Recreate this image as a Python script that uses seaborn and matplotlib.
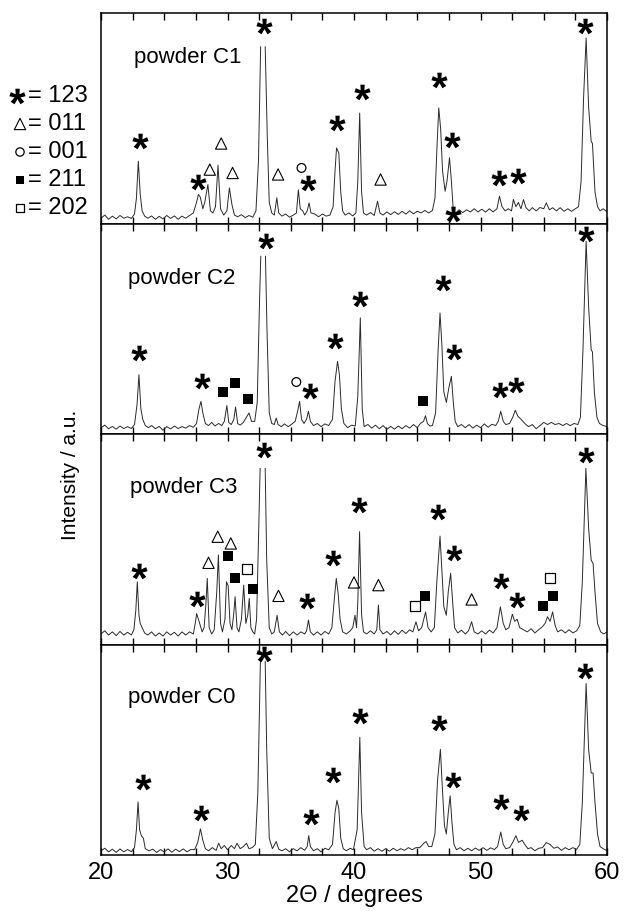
import numpy as np
import pandas as pd
import matplotlib
matplotlib.use("Agg")
import matplotlib.pyplot as plt
import seaborn as sns
from matplotlib.textpath import TextPath
from matplotlib.font_manager import FontProperties
from matplotlib.path import Path

# ---------------- data ----------------
PANEL_LABELS = ["powder C1", "powder C2", "powder C3", "powder C0"]
X_TICKS = [20, 30, 40, 50, 60]
LEGEND_LABELS = ["= 123", "= 011", "= 001", "= 211", "= 202"]

C1_TRACE = [
    (20.0, 2.5), (20.3, 4.0), (20.6, 2.0), (20.9, 3.5), (21.2, 2.2), (21.5, 3.8), (21.8, 2.5), (22.1, 3.2),
    (22.4, 2.4), (22.65, 4.5), (22.8, 12), (22.95, 29.6), (23.1, 14), (23.25, 6), (23.45, 3.5), (23.7, 2.5),
    (24.0, 3.6), (24.3, 2.0), (24.6, 3.4), (24.9, 2.2), (25.2, 3.8), (25.5, 2.4), (25.8, 3.6), (26.1, 2.0),
    (26.4, 3.5), (26.7, 2.5), (27.0, 3.8), (27.3, 5), (27.55, 10), (27.7, 13.8), (27.85, 12.5), (28.05, 7),
    (28.2, 10), (28.45, 18.5), (28.65, 6), (28.85, 5), (29.05, 8), (29.25, 27.7), (29.45, 7), (29.7, 4),
    (29.95, 6), (30.15, 16.9), (30.35, 9), (30.55, 4), (30.8, 3.2), (31.1, 4.2), (31.4, 2.8), (31.7, 3.8),
    (32.0, 3.0), (32.25, 6), (32.45, 30), (32.62, 84), None, (32.98, 84), (33.15, 40), (33.3, 10),
    (33.5, 5), (33.7, 4), (33.9, 12.2), (34.05, 5), (34.3, 3.5), (34.6, 4.5), (34.9, 3), (35.2, 4),
    (35.45, 5), (35.6, 16), (35.75, 7), (35.95, 6), (36.1, 4), (36.3, 6), (36.45, 9.8), (36.6, 5),
    (36.9, 4.5), (37.2, 3.2), (37.5, 4.5), (37.8, 3.5), (38.1, 4), (38.35, 8), (38.5, 25), (38.62, 35.9),
    (38.8, 33.5), (38.95, 15), (39.1, 6), (39.3, 4), (39.6, 5), (39.9, 3.6), (40.15, 5), (40.3, 20),
    (40.45, 52.5), (40.6, 15), (40.75, 5), (41.0, 4), (41.3, 5.2), (41.6, 3.8), (41.86, 10.6), (42.05, 5),
    (42.3, 4), (42.6, 5.5), (42.9, 4.2), (43.2, 5.6), (43.5, 4.3), (43.8, 5.8), (44.1, 4.5), (44.4, 6),
    (44.7, 4.6), (45.0, 5.8), (45.3, 5), (45.6, 6.2), (45.9, 5), (46.2, 6.2), (46.4, 12), (46.55, 35),
    (46.7, 54.9), (46.85, 45), (47.0, 25), (47.2, 15.3), (47.35, 20), (47.55, 31.2), (47.7, 20), (47.85, 6),
    (48.05, 5), (48.3, 6.5), (48.6, 5.2), (48.9, 6.5), (49.2, 5.5), (49.5, 7), (49.8, 5.5), (50.1, 6.8),
    (50.4, 5.4), (50.7, 7), (51.0, 5.5), (51.3, 7), (51.5, 13), (51.7, 8), (51.95, 6), (52.2, 7),
    (52.45, 6), (52.6, 11.4), (52.8, 8), (53.0, 10), (53.2, 7), (53.4, 11.4), (53.6, 7.5), (53.85, 6),
    (54.1, 7.5), (54.4, 6), (54.7, 7.6), (55.0, 7), (55.2, 9.8), (55.45, 6.5), (55.7, 7.5), (56.0, 6),
    (56.3, 7.5), (56.6, 5.8), (56.9, 7), (57.2, 5.8), (57.5, 7), (57.75, 8), (57.95, 20), (58.15, 60),
    (58.35, 88.1), (58.55, 55), (58.75, 39), (58.85, 38), (59.05, 15), (59.25, 8), (59.45, 6), (59.7, 7),
    (60.0, 5.5),
]

C2_TRACE = [
    (20.0, 3), (20.3, 4.2), (20.6, 2.5), (20.9, 3.6), (21.2, 2.3), (21.5, 3.8), (21.8, 2.6), (22.1, 3.5),
    (22.4, 2.6), (22.65, 4.5), (22.85, 14), (23.0, 28.2), (23.15, 12), (23.3, 7), (23.5, 4), (23.75, 3),
    (24.0, 4), (24.3, 2.5), (24.6, 3.6), (24.9, 1.8), (25.2, 3.5), (25.5, 2.4), (25.8, 3.8), (26.1, 2.6),
    (26.4, 3.5), (26.7, 2.8), (27.0, 4), (27.3, 3.2), (27.55, 5), (27.75, 12), (27.9, 15.5), (28.05, 10),
    (28.25, 5), (28.5, 4), (28.75, 5.5), (29.0, 3.8), (29.3, 5), (29.55, 4), (29.75, 6), (29.95, 13.5),
    (30.1, 5.5), (30.3, 4.5), (30.5, 7), (30.64, 12.8), (30.8, 5), (31.0, 4.2), (31.25, 5.5), (31.45, 7.5),
    (31.7, 10), (31.9, 6), (32.15, 6), (32.35, 15), (32.52, 60), (32.63, 84.5), None, (33.0, 84.5),
    (33.12, 50), (33.3, 10), (33.5, 5), (33.7, 4.5), (33.85, 7.6), (34.0, 4.5), (34.25, 3.5), (34.5, 4.8),
    (34.8, 3.5), (35.1, 4.8), (35.35, 6), (35.55, 11), (35.7, 15.5), (35.85, 7), (36.05, 5), (36.25, 7),
    (36.4, 10.8), (36.55, 6), (36.8, 4), (37.1, 5), (37.4, 3.5), (37.7, 4.8), (38.0, 4), (38.3, 7),
    (38.5, 25), (38.7, 34.5), (38.85, 28), (39.0, 12), (39.2, 5), (39.5, 3), (39.8, 4.2), (40.1, 3.8),
    (40.3, 18), (40.5, 55.2), (40.65, 12), (40.8, 3.5), (41.1, 4.5), (41.4, 2.8), (41.7, 4.2), (42.0, 2.5),
    (42.3, 4), (42.6, 2.2), (42.9, 3.6), (43.2, 2.3), (43.5, 3.8), (43.8, 2.5), (44.1, 4), (44.4, 2.8),
    (44.7, 4.5), (45.0, 3), (45.25, 5), (45.5, 6), (45.65, 8.7), (45.8, 5), (46.0, 3.8), (46.2, 4),
    (46.45, 10), (46.65, 40), (46.8, 57.5), (46.95, 42), (47.1, 20), (47.3, 15), (47.5, 22), (47.7, 27.4),
    (47.85, 15), (48.0, 6), (48.2, 3.5), (48.5, 4.5), (48.8, 3), (49.1, 4.5), (49.4, 2.8), (49.7, 4.2),
    (50.0, 3), (50.3, 4.8), (50.6, 3.2), (50.9, 4.6), (51.2, 4), (51.4, 6), (51.6, 10.8), (51.8, 6),
    (52.0, 4.5), (52.3, 5), (52.55, 8), (52.75, 11.3), (52.95, 8.5), (53.2, 7), (53.5, 5), (53.8, 3.5),
    (54.1, 4.5), (54.4, 2.5), (54.7, 4), (55.0, 5.5), (55.3, 4.5), (55.6, 5.5), (55.9, 4.5), (56.2, 5),
    (56.5, 4), (56.8, 5), (57.1, 4), (57.4, 5), (57.7, 4.5), (57.9, 8), (58.1, 40), (58.35, 91.6),
    (58.55, 60), (58.75, 40), (58.85, 39), (59.0, 20), (59.2, 8), (59.4, 5), (59.7, 4), (60.0, 3.5),
]

C3_TRACE = [
    (20.0, 5), (20.3, 6.5), (20.6, 4.5), (20.9, 6), (21.2, 4.2), (21.5, 6.2), (21.8, 4.5), (22.1, 5.8),
    (22.4, 4.5), (22.6, 7), (22.75, 16), (22.87, 29.8), (23.0, 14), (23.1, 10), (23.25, 8), (23.45, 5.5),
    (23.7, 4.5), (24.0, 6), (24.3, 4), (24.6, 5.5), (24.9, 4), (25.2, 6), (25.5, 4.5), (25.8, 5.8),
    (26.1, 4), (26.4, 6), (26.7, 4.5), (27.0, 6), (27.3, 5), (27.45, 10), (27.56, 14.7), (27.7, 12),
    (27.85, 9), (28.0, 6), (28.15, 8), (28.3, 20), (28.4, 31.4), (28.55, 8), (28.75, 5), (28.95, 7),
    (29.15, 25), (29.28, 42.5), (29.45, 10), (29.6, 6), (29.8, 12), (29.92, 29.8), (30.05, 28), (30.2, 10),
    (30.35, 7), (30.5, 15), (30.6, 22.7), (30.75, 8), (30.9, 6), (31.1, 12), (31.28, 28.2), (31.45, 10),
    (31.6, 14), (31.72, 21.9), (31.85, 8), (32.0, 6), (32.15, 5), (32.3, 12), (32.45, 50), (32.58, 83.7),
    None, (32.98, 83.7), (33.1, 40), (33.3, 8), (33.5, 5), (33.7, 6), (33.92, 13.9), (34.1, 6),
    (34.35, 4.5), (34.6, 6.2), (34.9, 4.2), (35.2, 6), (35.5, 4.5), (35.8, 6), (36.1, 5), (36.25, 6.5),
    (36.4, 11.6), (36.55, 6), (36.8, 4.5), (37.1, 6), (37.4, 4.5), (37.7, 6.2), (38.0, 5), (38.25, 8),
    (38.45, 22), (38.6, 31.4), (38.75, 24), (38.9, 12), (39.1, 6), (39.4, 5), (39.7, 6.5), (39.9, 8),
    (40.08, 13.9), (40.2, 8), (40.3, 20), (40.44, 53.6), (40.6, 14), (40.75, 6), (41.0, 5), (41.3, 6.5),
    (41.6, 5), (41.8, 7), (41.93, 18.7), (42.05, 7), (42.3, 5), (42.6, 6.2), (42.9, 4.5), (43.2, 6.5),
    (43.5, 4.8), (43.8, 6.8), (44.1, 5.2), (44.4, 7), (44.65, 6), (44.9, 10.8), (45.1, 6.5), (45.35, 8),
    (45.66, 15.5), (45.85, 8), (46.1, 6), (46.35, 8), (46.55, 30), (46.8, 51.5), (46.95, 35), (47.1, 18),
    (47.3, 13.9), (47.45, 25), (47.64, 33.8), (47.8, 20), (47.95, 8), (48.2, 5.5), (48.5, 6.8), (48.8, 5),
    (49.05, 6.5), (49.3, 10.8), (49.5, 6), (49.8, 5), (50.1, 6.5), (50.4, 5), (50.7, 6.8), (51.0, 5.5),
    (51.3, 8), (51.57, 17.9), (51.8, 10), (52.0, 7), (52.25, 8), (52.52, 14.4), (52.7, 11), (52.9, 12),
    (53.1, 8), (53.4, 7), (53.7, 6), (54.0, 7.5), (54.3, 5.5), (54.6, 7), (54.9, 8.5), (55.1, 10),
    (55.3, 13.2), (55.5, 11), (55.7, 15.5), (55.9, 9), (56.1, 6), (56.4, 7), (56.7, 5.5), (57.0, 7),
    (57.3, 5.5), (57.6, 6.5), (57.85, 9), (58.05, 30), (58.33, 83.7), (58.55, 55), (58.75, 40), (58.9, 38.5),
    (59.05, 25), (59.25, 10), (59.5, 6), (59.75, 5), (60.0, 6),
]

C0_TRACE = [
    (20.0, 2), (20.3, 3.2), (20.6, 1.5), (20.9, 2.8), (21.2, 1.2), (21.5, 2.9), (21.8, 1.5), (22.1, 2.6),
    (22.4, 1.6), (22.65, 3.5), (22.8, 12), (22.93, 25.2), (23.05, 12), (23.2, 9), (23.35, 8), (23.5, 3),
    (23.8, 2), (24.1, 2.8), (24.4, 1.2), (24.7, 2.6), (25.0, 1.5), (25.3, 2.9), (25.6, 1.3), (25.9, 2.8),
    (26.2, 1.6), (26.5, 2.9), (26.8, 1.5), (27.1, 2.6), (27.4, 2.5), (27.65, 6), (27.86, 12.4), (28.05, 7),
    (28.25, 3), (28.5, 2), (28.8, 3.5), (29.1, 2.2), (29.3, 5.6), (29.5, 3), (29.75, 4.5), (30.0, 2.5),
    (30.3, 4.5), (30.55, 3), (30.75, 5.6), (31.0, 3), (31.25, 4), (31.5, 5.6), (31.7, 3), (31.95, 3.5),
    (32.2, 5), (32.4, 30), (32.6, 92), None, (32.98, 92), (33.1, 50), (33.3, 8), (33.55, 3),
    (33.85, 6.4), (34.05, 2.8), (34.3, 2), (34.6, 3), (34.9, 1.5), (35.2, 3), (35.5, 2), (35.8, 3.5),
    (36.1, 2.2), (36.3, 4), (36.42, 9.2), (36.55, 4), (36.8, 2), (37.1, 3), (37.4, 1.5), (37.7, 3.2),
    (38.0, 2.5), (38.3, 5), (38.5, 20), (38.65, 26), (38.8, 22), (38.95, 8), (39.15, 3), (39.4, 2),
    (39.7, 3.2), (39.95, 2.5), (40.25, 12), (40.46, 55.9), (40.6, 20), (40.8, 4), (41.0, 2.5), (41.3, 3.5),
    (41.6, 1.8), (41.9, 3), (42.2, 1.8), (42.5, 3), (42.8, 1.8), (43.1, 3.2), (43.4, 2), (43.7, 3),
    (44.0, 2.2), (44.3, 3.5), (44.6, 2.5), (44.9, 3.5), (45.2, 3.5), (45.5, 5.5), (45.7, 6.4), (45.9, 4),
    (46.15, 4), (46.4, 10), (46.6, 35), (46.83, 50.2), (47.0, 30), (47.15, 14), (47.3, 10), (47.45, 20),
    (47.6, 28.1), (47.75, 15), (47.9, 5), (48.1, 2.5), (48.4, 3.5), (48.7, 2), (49.0, 3.2), (49.3, 2),
    (49.6, 3.3), (49.9, 2.2), (50.2, 3.5), (50.5, 2.2), (50.8, 3.4), (51.1, 2.6), (51.35, 4), (51.6, 10.9),
    (51.8, 5), (52.0, 3), (52.3, 3.5), (52.55, 6), (52.8, 9.2), (53.0, 6), (53.3, 7), (53.5, 5),
    (53.75, 3), (54.0, 3.5), (54.3, 2), (54.6, 3.2), (54.9, 3.5), (55.2, 5.9), (55.5, 5), (55.8, 3.2),
    (56.1, 3.8), (56.4, 2.2), (56.7, 3.5), (57.0, 2.5), (57.3, 3.5), (57.6, 2.7), (57.85, 5), (58.05, 25),
    (58.35, 81.5), (58.55, 50), (58.75, 39), (58.9, 38.9), (59.05, 25), (59.25, 10), (59.45, 4), (59.7, 3),
    (60.0, 2),
]

# phase markers per panel: 123 (star), 011 (triangle), 001 (circle), 211 (filled sq), 202 (open sq)
C1_STAR = [(23.1, 39), (27.7, 19.6), (32.9, 94), (36.35, 19.3), (38.65, 47.8), (40.6, 62.3), (46.7, 68.4),
           (47.76, 39.9), (47.8, 4.3), (51.5, 21.7), (53.0, 22.5), (58.3, 94)]
C1_TRI = [(28.6, 25.6), (29.5, 38), (30.4, 24), (34.0, 23.3), (42.1, 20.9)]
C1_CIRC = [(35.85, 26.4)]
C1_FSQ = []
C1_OSQ = []

C2_STAR = [(23.03, 38.5), (27.95, 25), (33.03, 91.6), (36.54, 20.6), (38.5, 44), (40.5, 64.2),
           (47.0, 71.8), (47.87, 38.8), (51.54, 21.1), (52.77, 23.5), (58.33, 94.8)]
C2_TRI = []
C2_CIRC = [(35.44, 24.7)]
C2_FSQ = [(29.67, 20), (30.56, 24.2), (31.6, 16.8), (45.46, 15.5)]
C2_OSQ = []

C3_STAR = [(23.0, 35), (27.6, 21.4), (32.87, 92.4), (36.28, 20.8), (38.33, 40.9), (40.36, 66.2),
           (46.64, 63), (47.9, 43.3), (51.62, 30.3), (52.86, 21), (58.33, 90)]
C3_TRI = [(28.5, 38.8), (29.23, 51.2), (30.26, 48), (34.03, 23.1), (40.0, 29.5), (41.93, 28.2), (49.3, 21.4)]
C3_CIRC = []
C3_FSQ = [(30.05, 42), (30.56, 31.7), (32.0, 26.6), (45.58, 23), (54.96, 18.4), (55.7, 23.1)]
C3_OSQ = [(31.54, 35.8), (44.8, 18.4), (55.5, 31.7)]

C0_STAR = [(23.33, 34.6), (27.94, 20.1), (32.87, 95.7), (36.6, 18.2), (38.37, 37.8), (40.46, 66.2),
           (46.69, 62.7), (47.86, 35.4), (51.6, 25.4), (53.2, 20.1), (58.3, 87.6)]
C0_TRI = []
C0_CIRC = []
C0_FSQ = []
C0_OSQ = []

TRACES = [C1_TRACE, C2_TRACE, C3_TRACE, C0_TRACE]
STARS = [C1_STAR, C2_STAR, C3_STAR, C0_STAR]
TRIS = [C1_TRI, C2_TRI, C3_TRI, C0_TRI]
CIRCS = [C1_CIRC, C2_CIRC, C3_CIRC, C0_CIRC]
FSQS = [C1_FSQ, C2_FSQ, C3_FSQ, C0_FSQ]
OSQS = [C1_OSQ, C2_OSQ, C3_OSQ, C0_OSQ]
LABEL_POS = [(22.6, 79), (22.1, 74), (22.3, 74.8), (22.1, 74.8)]

# ---------------- styling ----------------
sns.set_theme(style="ticks")
plt.rcParams["font.family"] = ["Liberation Sans", "DejaVu Sans"]
plt.rcParams["axes.linewidth"] = 1.1
plt.rcParams["text.color"] = "black"
plt.rcParams["axes.labelcolor"] = "black"
plt.rcParams["xtick.color"] = "black"
plt.rcParams["xtick.labelcolor"] = "black"

FS = 16
W, H = 632, 911
fig = plt.figure(figsize=(W / 100, H / 100), dpi=100)

# star marker from the bold asterisk glyph, centred
tp = TextPath((0, 0), "*", size=10, prop=FontProperties(family="Liberation Sans", weight="bold"))
verts = tp.vertices.copy()
codes = tp.codes
real = codes != Path.CLOSEPOLY
center = (verts[real].min(0) + verts[real].max(0)) / 2
verts = verts - center
verts[~real] = 0
STAR_MARKER = Path(verts, codes)
STAR_S = 135

left_px, right_px, top_px, bot_px = 101, 607, 13, 855
panel_h = (bot_px - top_px) / 4


def frame(trace):
    rows, seg = [], 0
    for p in trace:
        if p is None:
            seg += 1
            continue
        rows.append((p[0], p[1], seg))
    return pd.DataFrame(rows, columns=["two_theta", "intensity", "seg"])


def pts(lst):
    if not lst:
        return None
    return pd.DataFrame(lst, columns=["x", "y"])


axes = []
for i in range(4):
    y_top = top_px + i * panel_h
    ax = fig.add_axes([left_px / W, 1 - (y_top + panel_h) / H, (right_px - left_px) / W, panel_h / H])
    axes.append(ax)
    df = frame(TRACES[i])
    sns.lineplot(data=df, x="two_theta", y="intensity", units="seg", estimator=None, sort=False,
                 color="#2a2a2a", linewidth=0.7, ax=ax, legend=False)

    d = pts(STARS[i])
    if d is not None:
        sns.scatterplot(data=d, x="x", y="y", marker=STAR_MARKER, s=STAR_S, color="black",
                        linewidth=0, ax=ax, legend=False, zorder=5)
    d = pts(TRIS[i])
    if d is not None:
        sns.scatterplot(data=d, x="x", y="y", marker="^", s=66, color="black", facecolors="none",
                        edgecolor="black", linewidth=0.8, ax=ax, legend=False, zorder=5)
    d = pts(CIRCS[i])
    if d is not None:
        sns.scatterplot(data=d, x="x", y="y", marker="o", s=40, color="black", facecolors="none",
                        edgecolor="black", linewidth=0.9, ax=ax, legend=False, zorder=5)
    d = pts(FSQS[i])
    if d is not None:
        sns.scatterplot(data=d, x="x", y="y", marker="s", s=50, color="black",
                        linewidth=0, ax=ax, legend=False, zorder=5)
    d = pts(OSQS[i])
    if d is not None:
        sns.scatterplot(data=d, x="x", y="y", marker="s", s=44, color="black", facecolors="white",
                        edgecolor="black", linewidth=0.9, ax=ax, legend=False, zorder=5)

    ax.text(LABEL_POS[i][0], LABEL_POS[i][1], PANEL_LABELS[i], fontsize=FS, ha="left", va="center",
            color="black")
    ax.set_xlim(20, 60)
    ax.set_ylim(0, 100)
    ax.set_yticks([])
    ax.set_xticks(np.arange(20, 60.01, 2.5))
    ax.tick_params(axis="x", direction="in", top=True, bottom=True, length=5, width=1.0,
                   labelsize=FS + 1, pad=5, color="black", labelcolor="black")
    ax.set_ylabel("")
    ax.set_xlabel("")
    for s in ax.spines.values():
        s.set_visible(True)
        s.set_color("black")
    if i < 3:
        ax.tick_params(axis="x", labelbottom=False)
    else:
        ticks = np.arange(20, 60.01, 2.5)
        ax.set_xticks(ticks)
        ax.set_xticklabels([str(int(t)) if t in X_TICKS else "" for t in ticks])
        ax.set_xlabel("2\u0398 / degrees", fontsize=FS + 1, labelpad=1, color="black")

fig.text(70 / W, 1 - 475 / H, "Intensity / a.u.", rotation=90, ha="center", va="center", fontsize=15,
         color="black")

# left-hand phase key (figure pixel coordinates)
key = fig.add_axes([0, 0, 1, 1], zorder=-1)
key.set_xlim(0, W)
key.set_ylim(H, 0)
key.axis("off")
key_rows = [96, 124, 152, 180, 208]
key.scatter([17], [key_rows[0]], marker=STAR_MARKER, s=STAR_S, color="black", linewidth=0)
key.scatter([20], [key_rows[1]], marker="^", s=66, facecolors="none", edgecolors="black", linewidth=0.8)
key.scatter([20], [key_rows[2]], marker="o", s=36, facecolors="none", edgecolors="black", linewidth=0.9)
key.scatter([20], [key_rows[3]], marker="s", s=38, color="black", linewidth=0)
key.scatter([20], [key_rows[4]], marker="s", s=38, facecolors="white", edgecolors="black", linewidth=0.9)
for yk, lab in zip(key_rows, LEGEND_LABELS):
    key.text(28, yk, lab, fontsize=17, ha="left", va="center", color="black")

fig.savefig("out.png", dpi=100)
